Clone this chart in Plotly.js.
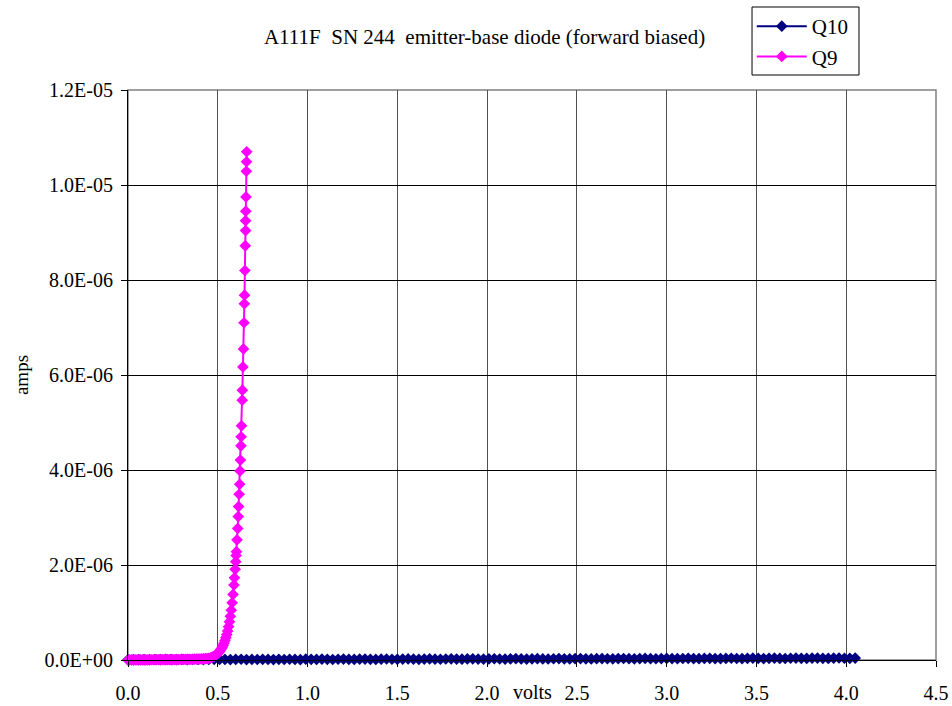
<!DOCTYPE html>
<html>
<head>
<meta charset="utf-8">
<script src="https://cdn.plot.ly/plotly-3.0.1.min.js"></script>
<style>html,body{margin:0;padding:0;background:#fff;}#chart{width:952px;height:706px;}</style>
</head>
<body>
<div id="chart"></div>
<script>
// ---- Data ----
const chartTitle = "A111F\u00a0\u00a0SN 244\u00a0\u00a0emitter-base diode (forward biased)";
const xAxisLabel = "volts";
const yAxisLabel = "amps";
const seriesNames = ["Q10", "Q9"];

const xTickVals = [0, 0.5, 1, 1.5, 2, 2.5, 3, 3.5, 4, 4.5];
const xTickText = ["0.0", "0.5", "1.0", "1.5", "2.0", "2.5", "3.0", "3.5", "4.0", "4.5"];
const yTickVals = [0, 2e-6, 4e-6, 6e-6, 8e-6, 1e-5, 1.2e-5];
const yTickText = ["0.0E+00", "2.0E-06", "4.0E-06", "6.0E-06", "8.0E-06", "1.0E-05", "1.2E-05"];

const q10Volts = [
  0.00,0.03,0.06,0.09,0.12,0.15,0.18,0.21,0.24,0.27,
  0.30,0.33,0.36,0.39,0.42,0.45,0.48,0.51,0.54,0.57,
  0.60,0.63,0.66,0.69,0.72,0.75,0.78,0.81,0.84,0.87,
  0.90,0.93,0.96,0.99,1.02,1.05,1.08,1.11,1.14,1.17,
  1.20,1.23,1.26,1.29,1.32,1.35,1.38,1.41,1.44,1.47,
  1.50,1.53,1.56,1.59,1.62,1.65,1.68,1.71,1.74,1.77,
  1.80,1.83,1.86,1.89,1.92,1.95,1.98,2.01,2.04,2.07,
  2.10,2.13,2.16,2.19,2.22,2.25,2.28,2.31,2.34,2.37,
  2.40,2.43,2.46,2.49,2.52,2.55,2.58,2.61,2.64,2.67,
  2.70,2.73,2.76,2.79,2.82,2.85,2.88,2.91,2.94,2.97,
  3.00,3.03,3.06,3.09,3.12,3.15,3.18,3.21,3.24,3.27,
  3.30,3.33,3.36,3.39,3.42,3.45,3.48,3.51,3.54,3.57,
  3.60,3.63,3.66,3.69,3.72,3.75,3.78,3.81,3.84,3.87,
  3.90,3.93,3.96,3.99,4.02,4.05
];
const q10Amps = [
  0.5e-8,0.8e-8,0.6e-8,1.0e-8,0.7e-8,1.1e-8,0.9e-8,1.2e-8,0.8e-8,1.0e-8,
  1.3e-8,0.9e-8,1.1e-8,1.4e-8,1.0e-8,1.2e-8,1.5e-8,1.1e-8,1.3e-8,0.9e-8,
  1.2e-8,1.6e-8,1.0e-8,1.3e-8,1.1e-8,1.5e-8,1.2e-8,0.9e-8,1.4e-8,1.1e-8,
  1.6e-8,1.3e-8,1.0e-8,1.7e-8,1.4e-8,1.2e-8,1.8e-8,1.5e-8,1.1e-8,1.6e-8,
  1.9e-8,1.4e-8,1.2e-8,1.7e-8,2.0e-8,1.5e-8,1.3e-8,1.8e-8,2.1e-8,1.6e-8,
  1.4e-8,1.9e-8,2.2e-8,1.7e-8,1.5e-8,2.0e-8,2.3e-8,1.8e-8,1.6e-8,2.1e-8,
  2.4e-8,1.9e-8,1.7e-8,2.2e-8,2.5e-8,2.0e-8,1.8e-8,2.3e-8,2.6e-8,2.1e-8,
  1.9e-8,2.4e-8,2.7e-8,2.2e-8,2.0e-8,2.5e-8,2.8e-8,2.3e-8,2.1e-8,2.6e-8,
  2.9e-8,2.4e-8,2.2e-8,2.7e-8,3.0e-8,2.5e-8,2.3e-8,2.8e-8,3.1e-8,2.6e-8,
  2.4e-8,2.9e-8,3.2e-8,2.7e-8,2.5e-8,3.0e-8,3.3e-8,2.8e-8,2.6e-8,3.1e-8,
  3.4e-8,2.9e-8,2.7e-8,3.2e-8,3.5e-8,3.0e-8,2.8e-8,3.3e-8,3.6e-8,3.1e-8,
  2.9e-8,3.4e-8,3.7e-8,3.2e-8,3.0e-8,3.5e-8,3.8e-8,3.3e-8,3.1e-8,3.6e-8,
  3.9e-8,3.4e-8,3.2e-8,3.7e-8,4.0e-8,3.5e-8,3.3e-8,3.8e-8,4.1e-8,3.6e-8,
  3.4e-8,3.9e-8,4.2e-8,3.7e-8,3.5e-8,4.0e-8
];

const q9Volts = [
  0.00,0.01,0.02,0.03,0.04,0.05,0.06,0.07,0.08,0.09,
  0.10,0.11,0.12,0.13,0.14,0.15,0.16,0.17,0.18,0.19,
  0.20,0.21,0.22,0.23,0.24,0.25,0.26,0.27,0.28,0.29,
  0.30,0.31,0.32,0.33,0.34,0.35,0.36,0.37,0.38,0.39,
  0.40,0.41,0.42,0.43,0.44,
  0.450,0.460,0.470,0.480,0.490,0.500,0.505,0.510,0.515,0.520,
  0.525,0.530,0.535,0.540,0.545,0.550,0.555,0.560,0.565,0.570,
  0.575,0.580,0.585,0.590,0.593,0.597,0.600,0.602,0.604,0.607,
  0.611,0.614,0.616,0.619,0.622,0.624,0.626,0.629,0.630,0.632,
  0.636,0.637,0.640,0.643,0.646,0.648,0.649,0.651,0.653,0.655,
  0.655,0.656,0.657,0.659,0.660,0.661
];
const q9Amps = [
  0,1e-9,1e-9,2e-9,2e-9,2e-9,3e-9,3e-9,3e-9,4e-9,
  4e-9,4e-9,5e-9,5e-9,5e-9,6e-9,6e-9,6e-9,7e-9,7e-9,
  7e-9,8e-9,8e-9,8e-9,9e-9,9e-9,9e-9,1.0e-8,1.0e-8,1.1e-8,
  1.1e-8,1.2e-8,1.2e-8,1.3e-8,1.4e-8,1.5e-8,1.6e-8,1.7e-8,1.8e-8,1.9e-8,
  2.0e-8,2.2e-8,2.4e-8,2.7e-8,3.0e-8,
  3.6e-8,4.7e-8,6.2e-8,8.1e-8,1.06e-7,1.39e-7,1.60e-7,1.81e-7,2.10e-7,2.38e-7,
  2.70e-7,3.12e-7,3.60e-7,4.09e-7,4.70e-7,5.35e-7,6.10e-7,7.02e-7,8.04e-7,9.20e-7,
  1.05e-6,1.205e-6,1.38e-6,1.579e-6,1.73e-6,1.91e-6,2.07e-6,2.20e-6,2.28e-6,2.53e-6,
  2.77e-6,3.02e-6,3.23e-6,3.49e-6,3.70e-6,3.98e-6,4.21e-6,4.51e-6,4.70e-6,4.93e-6,
  5.47e-6,5.68e-6,6.17e-6,6.55e-6,7.10e-6,7.50e-6,7.68e-6,8.20e-6,8.72e-6,9.04e-6,
  9.25e-6,9.45e-6,9.75e-6,10.29e-6,10.49e-6,10.70e-6
];

// ---- Chart ----
const serif = "Liberation Serif, Times New Roman, serif";

const traces = [
  {
    x: q10Volts, y: q10Amps, name: seriesNames[0], type: "scatter", mode: "lines+markers",
    legendgroup: "a", cliponaxis: false,
    line: {color: "#000080", width: 2},
    marker: {symbol: "diamond", size: 9, color: "#000080"}
  },
  {
    x: q9Volts, y: q9Amps, name: seriesNames[1], type: "scatter", mode: "lines+markers",
    legendgroup: "b", cliponaxis: false,
    line: {color: "#FF00FF", width: 2},
    marker: {symbol: "diamond", size: 9, color: "#FF00FF"}
  }
];

const layout = {
  width: 952, height: 706,
  margin: {l: 128, r: 16, t: 90, b: 46, autoexpand: false},
  paper_bgcolor: "#ffffff", plot_bgcolor: "#ffffff",
  font: {family: serif, color: "#000000", size: 20},
  showlegend: true,
  title: {
    text: chartTitle, font: {family: serif, size: 21, color: "#000"},
    x: 0.509, xanchor: "center", y: 0.948, yanchor: "middle"
  },
  xaxis: {
    range: [0, 4.5], tickmode: "array", tickvals: xTickVals, ticktext: xTickText,
    showgrid: true, gridcolor: "#505050", gridwidth: 1,
    showline: true, linecolor: "#000000", linewidth: 1,
    ticks: "outside", ticklen: 6, tickcolor: "#000000",
    zeroline: false, tickfont: {family: serif, size: 20},
    ticklabelstandoff: 9,
    fixedrange: true
  },
  yaxis: {
    range: [0, 1.2e-5], tickmode: "array", tickvals: yTickVals, ticktext: yTickText,
    showgrid: true, gridcolor: "#000000", gridwidth: 1,
    showline: true, linecolor: "#000000", linewidth: 1,
    ticks: "outside", ticklen: 6, tickcolor: "#000000",
    zeroline: false, tickfont: {family: serif, size: 20},
    ticklabelstandoff: 4,
    title: {text: yAxisLabel, font: {family: serif, size: 19}, standoff: 10},
    fixedrange: true
  },
  shapes: [
    {type: "rect", xref: "paper", yref: "paper", x0: 0, x1: 1, y0: 0, y1: 1,
     line: {color: "#808080", width: 1.5}, layer: "below"},
    // legend frame
    {type: "rect", xref: "paper", yref: "paper", x0: 0.7723, x1: 0.9047, y0: 1.0263, y1: 1.1456,
     line: {color: "#000000", width: 1}, fillcolor: "rgba(0,0,0,0)", layer: "above"}
  ],
  annotations: [
    {text: xAxisLabel, xref: "paper", yref: "paper", x: 0.5, y: 0, yshift: -32,
     showarrow: false, font: {family: serif, size: 20}, xanchor: "center", yanchor: "middle"}
  ],
  legend: {
    x: 0.772, y: 1.1474, xanchor: "left", yanchor: "top",
    borderwidth: 0, bgcolor: "rgba(0,0,0,0)",
    font: {family: serif, size: 21}, tracegroupgap: 0, itemwidth: 50,
    traceorder: "grouped"
  }
};

Plotly.newPlot("chart", traces, layout, {displayModeBar: false, staticPlot: true});
</script>
</body>
</html>
